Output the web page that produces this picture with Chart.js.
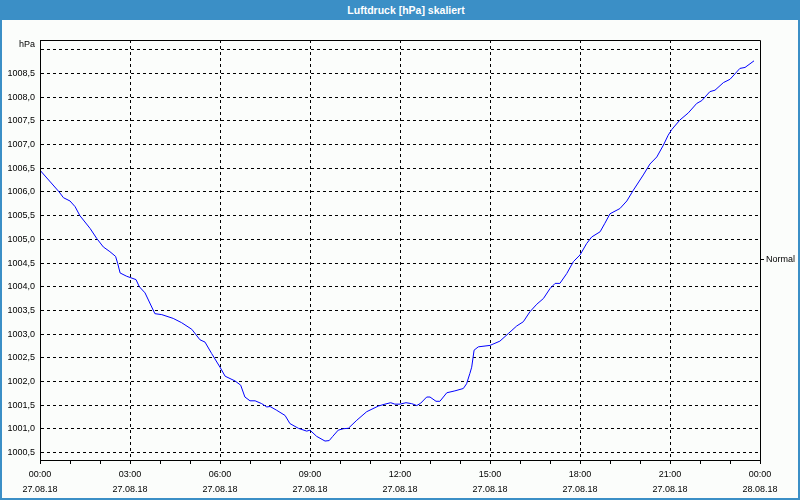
<!DOCTYPE html>
<html>
<head>
<meta charset="utf-8">
<script src="https://cdn.jsdelivr.net/npm/chart.js@4.4.1/dist/chart.umd.min.js"></script>
<style>
  html, body { margin: 0; padding: 0; background: #ffffff; }
  #wrap { position: relative; width: 800px; height: 500px; box-sizing: border-box;
          background: #fbfdfb; border: 2px solid #3b8fc6; border-top: none; overflow: hidden; }
  #title { position: absolute; left: 0; top: 0; width: 800px; height: 20px; margin-left: -2px;
           background: #3b8fc6; color: #ffffff; font: bold 10.5px "Liberation Sans", Arial, sans-serif;
           line-height: 20px; text-align: center; padding-left: 12px; box-sizing: border-box; }
  #c { position: absolute; left: -2px; top: 0; }
</style>
</head>
<body>
<div id="wrap">
  <div id="title">Luftdruck [hPa] skaliert</div>
  <canvas id="c" width="800" height="500"></canvas>
</div>
<script>
// ---- data (hours since 27.08.18 00:00, pressure in hPa) ----
const hours = [0.00,0.64,0.78,1.00,1.17,1.33,1.67,1.89,2.11,2.33,2.52,2.59,2.67,2.89,3.20,3.31,3.50,3.83,4.06,4.44,4.72,5.06,
  5.33,5.50,5.72,6.00,6.17,6.50,6.69,6.83,7.00,7.17,7.39,7.56,7.67,7.89,8.17,8.33,8.61,8.89,9.00,9.22,9.50,9.64,9.76,9.94,
  10.11,10.28,10.56,10.89,11.28,11.50,11.69,11.83,12.00,12.20,12.39,12.56,12.69,12.89,13.00,13.20,13.33,13.56,13.83,14.11,
  14.22,14.33,14.39,14.47,14.61,15.00,15.33,15.61,15.89,16.11,16.33,16.56,16.78,17.00,17.17,17.33,17.56,17.78,18.00,18.22,
  18.39,18.67,18.83,19.00,19.33,19.56,19.78,20.11,20.33,20.56,20.78,20.94,21.06,21.33,21.61,21.89,22.06,22.33,22.50,22.78,
  23.00,23.33,23.50,23.80];
const pressure = [1006.46,1006.00,1005.88,1005.81,1005.69,1005.50,1005.23,1005.02,1004.84,1004.74,1004.64,1004.49,1004.29,1004.22,1004.15,1004.00,1003.87,1003.43,1003.41,1003.33,1003.24,1003.10,
  1002.88,1002.83,1002.59,1002.30,1002.11,1002.01,1001.92,1001.67,1001.59,1001.59,1001.53,1001.46,1001.47,1001.39,1001.28,1001.11,1001.01,1000.95,1000.97,1000.84,1000.74,1000.75,1000.84,1000.97,
  1001.00,1001.01,1001.18,1001.36,1001.48,1001.52,1001.55,1001.52,1001.52,1001.55,1001.53,1001.49,1001.54,1001.67,1001.67,1001.58,1001.58,1001.76,1001.80,1001.85,
  1001.95,1002.17,1002.30,1002.66,1002.73,1002.76,1002.85,1003.01,1003.17,1003.26,1003.47,1003.63,1003.75,1003.96,1004.07,1004.07,1004.28,1004.53,1004.67,1004.91,
  1005.05,1005.16,1005.34,1005.54,1005.65,1005.81,1006.04,1006.36,1006.59,1006.74,1006.99,1007.20,1007.32,1007.52,1007.67,1007.87,1007.93,1008.12,1008.15,1008.31,
  1008.38,1008.61,1008.63,1008.77];
const yTicks = [1000.5,1001.0,1001.5,1002.0,1002.5,1003.0,1003.5,1004.0,1004.5,1005.0,1005.5,1006.0,1006.5,1007.0,1007.5,1008.0,1008.5,1009.0];
const xTickHours = [0,1,2,3,4,5,6,7,8,9,10,11,12,13,14,15,16,17,18,19,20,21,22,23,24];
const xLabels = {0:['00:00','27.08.18'],3:['03:00','27.08.18'],6:['06:00','27.08.18'],9:['09:00','27.08.18'],12:['12:00','27.08.18'],
  15:['15:00','27.08.18'],18:['18:00','27.08.18'],21:['21:00','27.08.18'],24:['00:00','28.08.18']};
const yUnit = 'hPa';
const normalValue = 1004.58;
const normalLabel = 'Normal';
const yMin = 1000.34, yMax = 1009.21;

const FONT = { family: '"Liberation Sans", Arial, sans-serif', size: 9 };

const framePlugin = {
  id: 'frame',
  afterDraw(chart) {
    const { ctx, chartArea: a } = chart;
    ctx.save();
    ctx.strokeStyle = '#000';
    ctx.lineWidth = 1;
    ctx.setLineDash([]);
    ctx.beginPath();
    ctx.moveTo(Math.round(a.left) + 0.5, Math.round(a.bottom) + 0.5);
    ctx.lineTo(Math.round(a.left) + 0.5, Math.round(a.top) + 0.5);
    ctx.lineTo(Math.round(a.right) + 0.5, Math.round(a.top) + 0.5);
    ctx.lineTo(Math.round(a.right) + 0.5, Math.round(a.bottom) + 0.5);
    ctx.stroke();
    // unit label at the top of the value axis
    const ys = chart.scales.y;
    ctx.fillStyle = '#000';
    ctx.font = FONT.size + 'px ' + FONT.family;
    ctx.textAlign = 'right';
    ctx.textBaseline = 'middle';
    ctx.fillText(yUnit, a.left - 5, ys.getPixelForValue(1009.0) - 5);
    ctx.restore();
  }
};

new Chart(document.getElementById('c'), {
  type: 'line',
  data: {
    datasets: [{
      data: hours.map((h, i) => ({ x: h, y: pressure[i] })),
      borderColor: '#0000ff',
      borderWidth: 1,
      pointRadius: 0,
      tension: 0,
      fill: false
    }]
  },
  options: {
    responsive: false,
    animation: false,
    devicePixelRatio: 1,
    layout: { padding: { top: 40, left: 0, right: 0, bottom: 0 } },
    plugins: { legend: { display: false }, tooltip: { enabled: false }, title: { display: false } },
    scales: {
      x: {
        type: 'linear', min: 0, max: 24,
        afterBuildTicks: s => { s.ticks = xTickHours.map(v => ({ value: v })); },
        afterFit: s => { s.height = 40; },
        grid: {
          color: c => (c.tick && c.tick.value % 3 === 0 && c.tick.value > 0 && c.tick.value < 24) ? '#000' : 'rgba(0,0,0,0)',
          tickColor: '#000', tickLength: 4, lineWidth: 1, drawTicks: true
        },
        border: { display: true, color: '#000', width: 1, dash: [3, 3] },
        ticks: {
          autoSkip: false, maxRotation: 0, padding: 3, color: '#000',
          font: { ...FONT, lineHeight: 1.65 },
          callback: v => xLabels[v] || ''
        }
      },
      y: {
        type: 'linear', min: yMin, max: yMax,
        afterBuildTicks: s => { s.ticks = yTicks.map(v => ({ value: v })); },
        afterFit: s => { s.width = 40; },
        grid: { color: '#000', lineWidth: 1, drawTicks: false },
        border: { display: true, color: '#000', width: 1, dash: [3, 3] },
        ticks: {
          padding: 5, color: '#000', font: FONT,
          callback: v => (v >= 1009 ? '' : v.toFixed(1).replace('.', ','))
        }
      },
      y2: {
        type: 'linear', position: 'right', min: yMin, max: yMax,
        afterBuildTicks: s => { s.ticks = [{ value: normalValue }]; },
        afterFit: s => { s.width = 40; },
        grid: { drawOnChartArea: false, tickColor: '#000', tickLength: 4, drawTicks: true },
        border: { display: false },
        ticks: { padding: 2, color: '#000', font: FONT, callback: () => normalLabel }
      }
    }
  },
  plugins: [framePlugin]
});
</script>
</body>
</html>
